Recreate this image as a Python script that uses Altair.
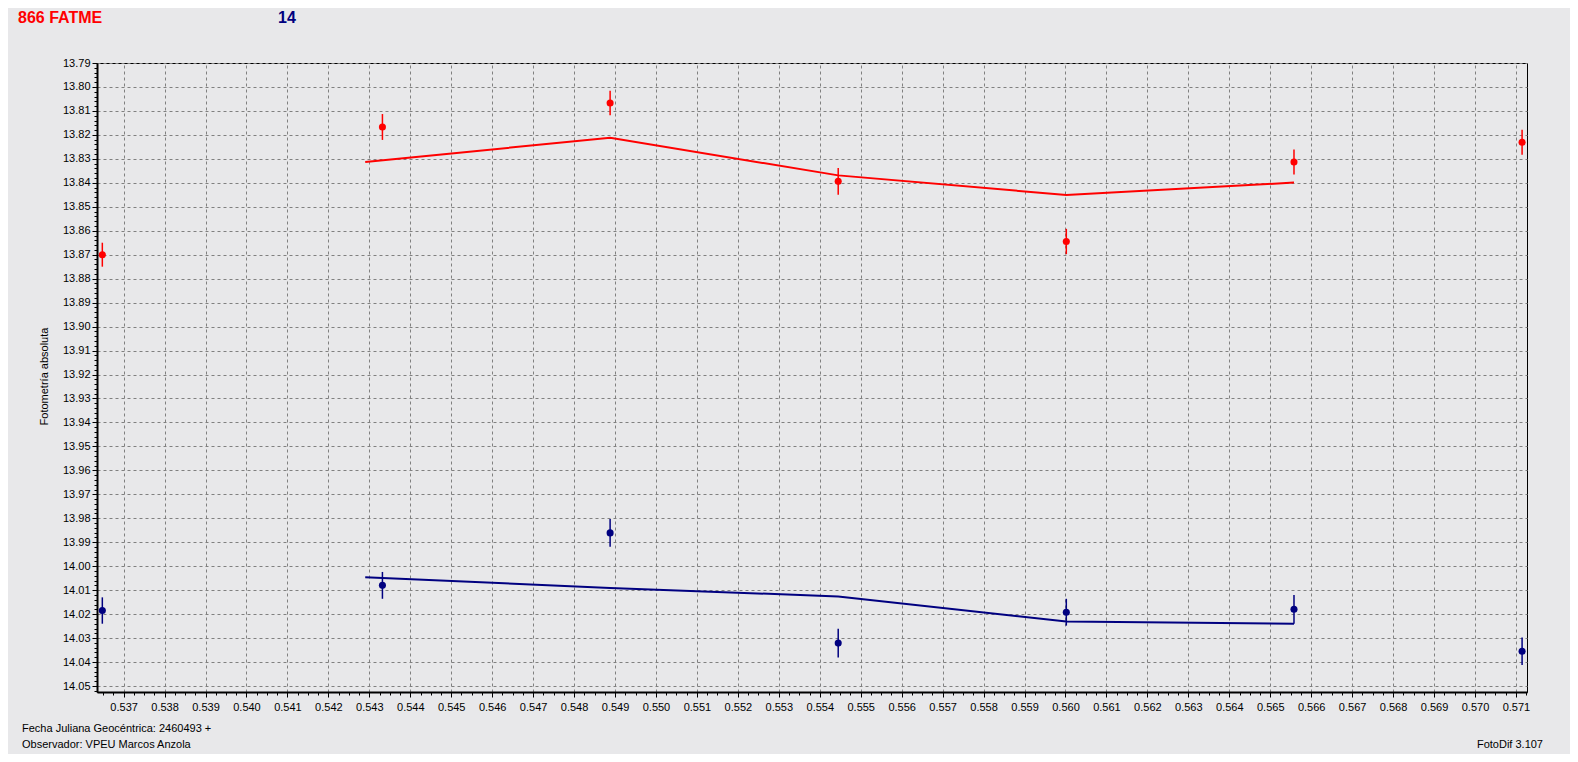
import altair as alt
import numpy as np
import pandas as pd

# ---- data ----
x_obs = [0.53648, 0.54332, 0.54888, 0.55445, 0.56002, 0.56558, 0.57115]
red_mag = [13.8700, 13.8167, 13.8067, 13.8394, 13.8645, 13.8313, 13.8231]
red_err = [0.0050, 0.0054, 0.0051, 0.0056, 0.0053, 0.0052, 0.0052]
blue_mag = [14.0185, 14.0080, 13.9861, 14.0321, 14.0192, 14.0180, 14.0355]
blue_err = [0.0055, 0.0056, 0.0058, 0.0060, 0.0056, 0.0060, 0.0057]

fit_x = [0.5429, 0.54888, 0.55445, 0.56002, 0.56558]
red_fit = [13.8313, 13.8212, 13.8369, 13.8451, 13.8399]
blue_fit = [14.0046, 14.0091, 14.0126, 14.0231, 14.0240]

x_domain = [0.53635, 0.57127]
y_domain = [13.79, 14.0525]
y_ticks = [round(v, 3) for v in np.arange(13.79, 14.0521, 0.002)]
x_ticks = [round(v, 5) for v in np.arange(0.5365, 0.57126, 0.00025)]

RED = "#FF0000"
NAVY = "#000080"
BG = "#E8E8EA"
FONT = "Liberation Sans"

obs = pd.DataFrame({
    "x": x_obs * 2,
    "mag": red_mag + blue_mag,
    "err": red_err + blue_err,
    "serie": ["red"] * 7 + ["blue"] * 7,
})
obs["lo"] = obs["mag"] - obs["err"]
obs["hi"] = obs["mag"] + obs["err"]

fit = pd.DataFrame({
    "x": fit_x * 2,
    "mag": red_fit + blue_fit,
    "serie": ["red"] * 5 + ["blue"] * 5,
})

color = alt.Color("serie:N", scale=alt.Scale(domain=["red", "blue"], range=[RED, NAVY]), legend=None)

y_major = "abs(datum.value*100 - round(datum.value*100)) < 0.001"
x_major = "abs(datum.value*1000 - round(datum.value*1000)) < 0.001"

xs = alt.Scale(domain=x_domain, nice=False, zero=False)
ys = alt.Scale(domain=y_domain, nice=False, zero=False, reverse=True)

x_axis = alt.Axis(
    values=x_ticks, tickCount=1000, title=None,
    labelExpr=f"{x_major} ? format(datum.value, '.3f') : ''",
    labelOverlap=False, labelFont=FONT, labelFontSize=11, labelColor="black",
    labelPadding=4,
    tickSize={"condition": {"test": x_major, "value": 5}, "value": 3},
    tickColor="black",
    gridOpacity={"condition": {"test": x_major, "value": 1}, "value": 0},
    gridColor="#808080", gridDash=[3, 3], gridWidth=1,
    domainColor="black", domainWidth=2,
)
y_axis = alt.Axis(
    values=y_ticks, tickCount=1000, title="Fotometría absoluta",
    labelExpr=f"{y_major} ? format(datum.value, '.2f') : ''",
    labelOverlap=False, labelFont=FONT, labelFontSize=11, labelColor="black",
    labelPadding=2,
    tickSize={"condition": {"test": y_major, "value": 5}, "value": 3},
    tickColor="black",
    gridOpacity={"condition": {"test": y_major, "value": 1}, "value": 0},
    gridColor="#808080", gridDash=[3, 3], gridWidth=1,
    domainColor="black", domainWidth=2,
    titleFont=FONT, titleFontSize=11, titleFontWeight="normal", titleColor="black",
    titleX=-53, titleY=313, titleBaseline="middle",
)

lines = alt.Chart(fit).mark_line(strokeWidth=2).encode(
    x=alt.X("x:Q", scale=xs, axis=x_axis),
    y=alt.Y("mag:Q", scale=ys, axis=y_axis),
    color=color,
    detail="serie:N",
)
bars = alt.Chart(obs).mark_rule(strokeWidth=1.5).encode(
    x="x:Q", y="lo:Q", y2="hi:Q", color=color,
)
pts = alt.Chart(obs).mark_circle(size=50, opacity=1).encode(
    x="x:Q", y="mag:Q", color=color,
)


def label(txt, x, y, size=11, weight="normal", col="black", align="left"):
    return alt.Chart(alt.Data(values=[{}])).mark_text(
        text=txt, font=FONT, fontSize=size, fontWeight=weight, color=col,
        align=align, baseline="middle",
    ).encode(x=alt.value(x), y=alt.value(y))


texts = [
    label("866 FATME", -79, -45, 16, "bold", RED),
    label("14", 181, -45, 16, "bold", NAVY),
    label("Fecha Juliana Geocéntrica: 2460493 +", -75, 666),
    label("Observador: VPEU Marcos Anzola", -75, 682),
    label("FotoDif 3.107", 1446, 682, align="right"),
]

chart = alt.layer(lines, bars, pts, *texts).properties(
    width=1430, height=629,
    autosize=alt.AutoSizeParams(type="none"),
    padding={"left": 89, "top": 55, "right": 43, "bottom": 62},
    background=BG,
).configure_view(stroke="black", strokeWidth=1, fill=BG)

chart.save("out.html", embed_options={"renderer": "svg", "actions": False})
